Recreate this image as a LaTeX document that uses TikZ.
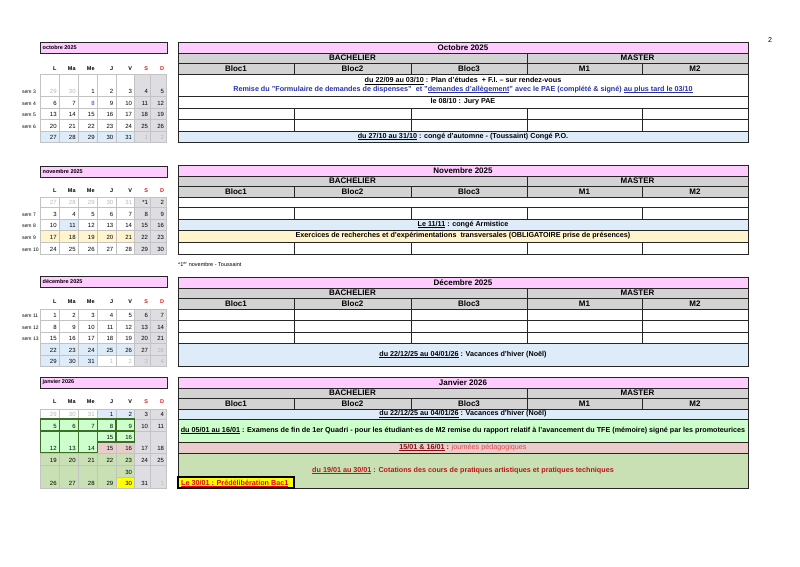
\documentclass[tikz,border=0pt]{standalone}
\usepackage{fontspec}
\setmainfont{Liberation Sans}
\definecolor{titlepink}{RGB}{255,204,255}
\definecolor{headgray}{RGB}{211,211,211}
\definecolor{wkgray}{RGB}{222,222,226}
\definecolor{vacblue}{RGB}{222,236,250}
\definecolor{exyel}{RGB}{255,244,204}
\definecolor{exgreen}{RGB}{204,255,204}
\definecolor{pedpink}{RGB}{234,204,204}
\definecolor{cotgreen}{RGB}{200,224,180}
\definecolor{dkgreen}{RGB}{60,110,40}
\definecolor{lgtext}{RGB}{185,185,185}
\definecolor{gridgray}{RGB}{195,195,195}
\definecolor{remblue}{RGB}{40,50,170}
\definecolor{cotred}{RGB}{190,20,20}
\definecolor{pedred}{RGB}{225,70,70}
\definecolor{sdred}{RGB}{215,30,30}
\definecolor{hlyellow}{RGB}{255,255,0}
\definecolor{numblue}{RGB}{40,60,200}
\def\calx{{40.7,59.3,78.3,97.3,116,134.7,150.7,166.7}}
\newcommand\ul[1]{\underline{\smash{#1}}}
\tikzset{
  tline/.style={draw=black!85,line width=0.9pt},
  cline/.style={draw=gridgray,line width=0.5pt},
  exline/.style={draw=dkgreen,line width=1.2pt},
  hd/.style={font=\bfseries\fontsize{8}{9}\selectfont,inner sep=0},
  txt/.style={font=\bfseries\fontsize{7.2}{8}\selectfont,inner sep=0},
  num/.style={font=\fontsize{6}{7}\selectfont,inner sep=0,anchor=south east},
  sem/.style={font=\fontsize{5}{6}\selectfont,inner sep=0,anchor=south west},
  dayhd/.style={font=\bfseries\fontsize{5.5}{6}\selectfont,inner sep=0,anchor=east},
  mt/.style={font=\bfseries\fontsize{5.5}{6}\selectfont,inner sep=0,anchor=west}
}
\newcommand\dcell[8][]{%
  \pgfmathsetmacro\xa{\calx[#3]}%
  \pgfmathsetmacro\xb{\calx[#3+1]}%
  \draw[cline,fill=#7,#1] (\xa,#4) rectangle (\xb,#5);
  \node[num,text=#8] (#2) at (\xb-2.5,#5-2) {#6};}
\newcommand\week[6][]{%
  \foreach \dn/\fc/\tc [count=\ci from #5] in {#6} {\dcell[#1]{#2\ci}{\ci}{#3}{#4}{\dn}{\fc}{\tc}}}
\newcommand\dayhead[2]{%
  \foreach \dl/\cl [count=\ci from 1] in {L/black,Ma/black,Me/black,J/black,V/black,S/sdred,D/sdred} {
    \pgfmathsetmacro\xb{\calx[\ci]}
    \node[dayhd,text=\cl] (#1\ci) at (\xb-2.5,#2) {\dl};}}
\newcommand\mtitle[3]{%
  \draw[tline,fill=titlepink] (40,#3) rectangle (167,#3+11);
  \node[mt] (#1) at (42.5,#3+5.5) {#2};}
\newcommand\head[3]{%
  \draw[tline,fill=titlepink] (178,#3) rectangle (748,#3+11);
  \node[hd] (#1T) at (463,#3+5.5) {#2};
  \draw[tline,fill=headgray] (178,#3+11) rectangle (527,#3+21) (527,#3+11) rectangle (748,#3+21);
  \node[hd] (#1B) at (352.5,#3+16) {BACHELIER};
  \node[hd] (#1M) at (637.5,#3+16) {MASTER};
  \foreach \xl/\xr/\bl in {178/294/Bloc1,294/411/Bloc2,411/527/Bloc3,527/642/M1,642/748/M2} {
    \draw[tline,fill=headgray] (\xl,#3+21) rectangle (\xr,#3+32);
    \node[hd] (#1\bl) at ({(\xl+\xr)/2},#3+26.5) {\bl};}}
\newcommand\fiverow[2]{%
  \foreach \xl/\xr in {178/294,294/411,411/527,527/642,642/748} {\draw[tline,fill=white] (\xl,#1) rectangle (\xr,#2);}}
\newcommand\wide[3]{\draw[tline,fill=#3] (178,#1) rectangle (748,#2);}
\begin{document}
\begin{tikzpicture}[x=1pt,y=-1pt]
\useasboundingbox[fill=white] (0,0) rectangle (800,566);
\node[font=\fontsize{7}{8}\selectfont] (page) at (770,40) {2};

\mtitle{oM}{octobre 2025}{42}
\dayhead{oH}{69}
\week{o1}{74}{96}{0}{29/white/lgtext,30/white/lgtext,1/white/black,2/white/black,3/white/black,4/wkgray/black,5/wkgray/black}
\week{o2}{96}{108}{0}{6/white/black,7/white/black,8/white/numblue,9/white/black,10/white/black,11/wkgray/black,12/wkgray/black}
\week{o3}{108}{119}{0}{13/white/black,14/white/black,15/white/black,16/white/black,17/white/black,18/wkgray/black,19/wkgray/black}
\week{o4}{119}{131}{0}{20/white/black,21/white/black,22/white/black,23/white/black,24/white/black,25/wkgray/black,26/wkgray/black}
\week{o5}{131}{142}{0}{27/vacblue/black,28/vacblue/black,29/vacblue/black,30/vacblue/black,31/vacblue/black,1/wkgray/lgtext,2/wkgray/lgtext}
\node[sem] (oS3) at (22,94) {sem 3};
\node[sem] (oS4) at (22,106) {sem 4};
\node[sem] (oS5) at (22,117) {sem 5};
\node[sem] (oS6) at (22,129) {sem 6};

\head{o}{Octobre 2025}{42}
\wide{74}{96}{white}
\node[txt] (oPlan) at (463,81) {\ul{du 22/09 au 03/10} : Plan d'études \ + F.I. – sur rendez-vous};
\node[txt,text=remblue] (oRem) at (463,89.5) {Remise du "Formulaire de demandes de dispenses" \ et "\ul{demandes d'allègement}" avec le PAE (complété \& signé) \ul{au plus tard le 03/10}};
\wide{96}{108}{white}
\node[txt] (oJury) at (463,102) {le 08/10 : Jury PAE};
\fiverow{108}{119}
\fiverow{119}{131}
\wide{131}{142}{vacblue}
\node[txt] (oConge) at (463,136.5) {\ul{du 27/10 au 31/10} : congé d'automne - (Toussaint) Congé P.O.};

\mtitle{nM}{novembre 2025}{166}
\dayhead{nH}{191}
\week{n1}{197}{207}{0}{27/white/lgtext,28/white/lgtext,29/white/lgtext,30/white/lgtext,31/white/lgtext,*1/wkgray/black,2/wkgray/black}
\week{n2}{207}{219}{0}{3/white/black,4/white/black,5/white/black,6/white/black,7/white/black,8/wkgray/black,9/wkgray/black}
\week{n3}{219}{230}{0}{10/white/black,11/vacblue/black,12/white/black,13/white/black,14/white/black,15/wkgray/black,16/wkgray/black}
\week{n4}{230}{242}{0}{17/exyel/black,18/exyel/black,19/exyel/black,20/exyel/black,21/exyel/black,22/wkgray/black,23/wkgray/black}
\week{n5}{242}{254}{0}{24/white/black,25/white/black,26/white/black,27/white/black,28/white/black,29/wkgray/black,30/wkgray/black}
\node[sem] (nS7) at (22,217) {sem 7};
\node[sem] (nS8) at (22,228) {sem 8};
\node[sem] (nS9) at (22,240) {sem 9};
\node[sem] (nS10) at (22,252) {sem 10};

\head{n}{Novembre 2025}{165}
\wide{197}{207}{white}
\fiverow{207}{219}
\wide{219}{230}{vacblue}
\node[txt] (nArm) at (463,224.5) {\ul{Le 11/11} : congé Armistice};
\wide{230}{242}{exyel}
\node[txt] (nExo) at (463,236) {Exercices de recherches et d'expérimentations \ transversales (OBLIGATOIRE prise de présences)};
\fiverow{242}{254}
\node[sem,anchor=west,font=\fontsize{5.5}{6}\selectfont] (nNote) at (178,264) {*1\textsuperscript{er} novembre - Toussaint};

\mtitle{dM}{décembre 2025}{276}
\dayhead{dH}{302}
\week{d1}{309}{320}{0}{1/white/black,2/white/black,3/white/black,4/white/black,5/white/black,6/wkgray/black,7/wkgray/black}
\week{d2}{320}{332}{0}{8/white/black,9/white/black,10/white/black,11/white/black,12/white/black,13/wkgray/black,14/wkgray/black}
\week{d3}{332}{343}{0}{15/white/black,16/white/black,17/white/black,18/white/black,19/white/black,20/wkgray/black,21/wkgray/black}
\week{d4}{343}{355}{0}{22/vacblue/black,23/vacblue/black,24/vacblue/black,25/vacblue/black,26/vacblue/black,27/wkgray/black,28/wkgray/lgtext}
\week{d5}{355}{366}{0}{29/vacblue/black,30/vacblue/black,31/vacblue/black,1/white/lgtext,2/white/lgtext,3/wkgray/lgtext,4/wkgray/lgtext}
\node[sem] (dS11) at (22,318) {sem 11};
\node[sem] (dS12) at (22,330) {sem 12};
\node[sem] (dS13) at (22,341) {sem 13};

\head{d}{Décembre 2025}{277}
\fiverow{309}{320}
\fiverow{320}{332}
\fiverow{332}{343}
\wide{343}{366}{vacblue}
\node[txt] (dNoel) at (463,354.5) {\ul{du 22/12/25 au 04/01/26} : Vacances d'hiver (Noël)};

\mtitle{jM}{janvier 2026}{377}
\dayhead{jH}{402}
\week{ja}{409}{419}{0}{29/white/lgtext,30/white/lgtext,31/white/lgtext,1/vacblue/black,2/vacblue/black,3/wkgray/black,4/wkgray/black}
\week{jb}{419}{431}{5}{10/wkgray/black,11/wkgray/black}
\week[exline]{jb}{419}{431}{0}{5/exgreen/black,6/exgreen/black,7/exgreen/black,8/exgreen/black,9/exgreen/black}
\week{jc}{431}{453}{5}{17/wkgray/black,18/wkgray/black}
\week{jd}{442}{453}{3}{15/pedpink/black,16/pedpink/black}
\week[exline]{jc}{431}{453}{0}{12/exgreen/black,13/exgreen/black,14/exgreen/black}
\week[exline]{je}{431}{442}{3}{15/exgreen/black,16/exgreen/black}
\week{jf}{453}{465}{0}{19/cotgreen/black,20/cotgreen/black,21/cotgreen/black,22/cotgreen/black,23/cotgreen/black,24/wkgray/black,25/wkgray/black}
\week{jg}{465}{488}{0}{26/cotgreen/black,27/cotgreen/black,28/cotgreen/black,29/cotgreen/black}
\week{jg}{465}{488}{5}{31/wkgray/black,1/wkgray/lgtext}
\week{jh}{465}{477}{4}{30/cotgreen/black}
\week{ji}{477}{488}{4}{30/hlyellow/black}

\head{j}{Janvier 2026}{377}
\wide{409}{419}{vacblue}
\node[txt] (jNoel) at (463,414) {\ul{du 22/12/25 au 04/01/26} : Vacances d'hiver (Noël)};
\wide{419}{442}{exgreen}
\node[txt] (jExam) at (463,430.5) {\ul{du 05/01 au 16/01} : Examens de fin de 1er Quadri - pour les étudiant·es de M2 remise du rapport relatif à l'avancement du TFE (mémoire) signé par les promoteurices};
\wide{442}{453}{pedpink}
\node[txt,text=cotred!70!black] (jPeda) at (463,447.5) {\ul{15/01 \& 16/01} : \textcolor{pedred}{\mdseries journées pédagogiques}};
\wide{453}{488}{cotgreen}
\node[txt,text=cotred] (jCot) at (463,470.5) {\ul{du 19/01 au 30/01} : Cotations des cours de pratiques artistiques et pratiques techniques};
\draw[line width=1.2pt,fill=hlyellow] (178,477) rectangle (294,488);
\node[txt,text=red!90!black,anchor=base west] (jPre) at (181,485) {\ul{Le 30/01 : Prédélibération Bac1}};
\end{tikzpicture}
\end{document}
